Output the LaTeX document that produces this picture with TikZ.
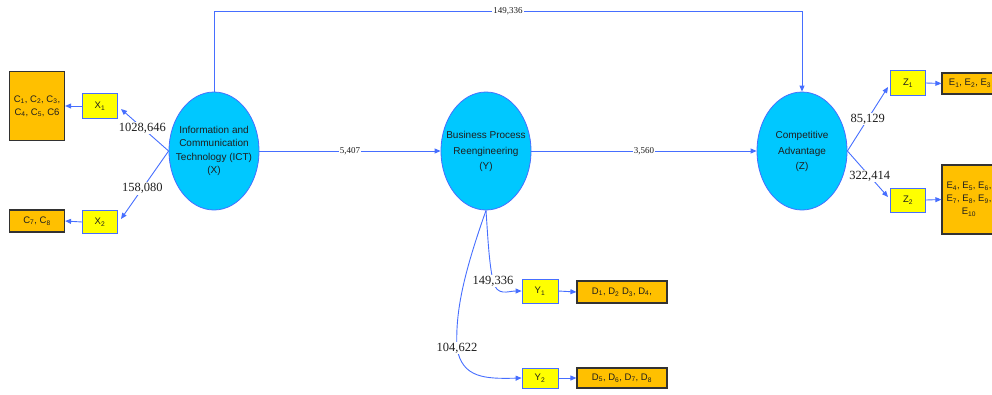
\documentclass[tikz,border=0pt]{standalone}
\usepackage{fontspec}
\setmainfont{Liberation Sans}
\newfontfamily\numfont{Liberation Serif}
\usetikzlibrary{shapes.geometric,arrows.meta}
\definecolor{cyanfill}{RGB}{0,200,255}
\definecolor{lineblue}{RGB}{70,110,255}
\definecolor{boxyellow}{RGB}{255,255,0}
\definecolor{boxorange}{RGB}{255,192,0}
\definecolor{darkborder}{RGB}{50,50,50}
\definecolor{txt}{RGB}{30,30,30}
\newcommand{\ssub}[1]{\textsubscript{#1}}
\newcommand{\elltext}[1]{\makebox[0pt]{\begin{tabular}{@{}c@{}}#1\end{tabular}}}
\begin{document}
\begin{tikzpicture}[x=1pt,y=-1pt,
 construct/.style={ellipse, draw=lineblue, fill=cyanfill, line width=0.8pt, minimum width=90pt, minimum height=118pt, inner sep=0pt, align=center, font=\fontsize{10}{15.5}\selectfont, text=txt},
 indicator/.style={draw=lineblue, fill=boxyellow, line width=0.8pt, minimum width=35pt, minimum height=24pt, inner sep=0pt, font=\fontsize{9.5}{11}\selectfont, text=txt},
 itembox/.style={draw=darkborder, fill=boxorange, line width=1.2pt, inner sep=0pt, align=center, font=\fontsize{9.5}{13}\selectfont, text=txt},
 conn/.style={draw=lineblue, line width=0.9pt},
 arr/.style={conn, -{Triangle[length=6pt,width=5pt]}},
 lblbig/.style={fill=white, inner sep=1pt, font=\numfont\fontsize{12.5}{13}\selectfont, text=txt},
 lblsmall/.style={fill=white, inner sep=1pt, font=\numfont\fontsize{9}{10}\selectfont, text=txt}]
\useasboundingbox (0,0) rectangle (992,394);

% constructs
\node[construct, font=\fontsize{10}{13.5}\selectfont] (ict) at (214,151) {\elltext{Information and\\Communication\\Technology (ICT)\\(X)}};
\node[construct] (bpr) at (486,151) {\raisebox{-2pt}{\elltext{Business Process\\Reengineering\\(Y)}}};
\node[construct] (ca) at (802,151) {\raisebox{-2pt}{\elltext{Competitive\\Advantage\\(Z)}}};

% X indicators
\node[indicator, minimum height=25pt] (x1) at (100,106) {X\ssub{1}};
\node[itembox, minimum width=55pt, minimum height=69pt] (c1) at (37,106) {C\ssub{1}, C\ssub{2}, C\ssub{3},\\C\ssub{4}, C\ssub{5}, C6};
\node[indicator, minimum height=23pt] (x2) at (100,222) {X\ssub{2}};
\node[itembox, minimum width=55pt, minimum height=22pt] (c2) at (37,221) {C\ssub{7}, C\ssub{8}};

% Z indicators
\node[indicator, minimum height=25pt] (z1) at (908,83) {Z\ssub{1}};
\node[itembox, minimum width=56pt, minimum height=21pt] (e1) at (970,83.5) {E\ssub{1}, E\ssub{2}, E\ssub{3}};
\node[indicator, minimum height=24pt] (z2) at (908,200) {Z\ssub{2}};
\node[itembox, minimum width=54pt, minimum height=69pt] (e2) at (969,199.5) {E\ssub{4}, E\ssub{5}, E\ssub{6},\\E\ssub{7}, E\ssub{8}, E\ssub{9},\\E\ssub{10}};

% Y indicators
\node[indicator, minimum width=36pt, minimum height=24pt] (y1) at (540,291) {Y\ssub{1}};
\node[itembox, minimum width=90pt, minimum height=22pt] (d1) at (622,292) {D\ssub{1}, D\ssub{2} D\ssub{3}, D\ssub{4},};
\node[indicator, minimum width=36pt, minimum height=20pt] (y2) at (540,378) {Y\ssub{2}};
\node[itembox, minimum width=90pt, minimum height=20pt] (d2) at (622,378) {D\ssub{5}, D\ssub{6}, D\ssub{7}, D\ssub{8}};

% structural paths
\coordinate (topl) at (214,11);
\coordinate (topr) at (802,11);
\draw[arr] (ict.north) -- (topl) -- node[lblsmall]{149,336} (topr) -- (ca.north);
\draw[arr] (ict.east) -- node[lblsmall]{5,407} (bpr.west);
\draw[arr] (bpr.east) -- node[lblsmall]{3,560} (ca.west);

% loadings X
\coordinate (x1tip) at (121,109);
\coordinate (x2tip) at (121,219);
\draw[arr] (ict.west) -- node[lblbig, pos=0.55]{1028,646} (x1tip);
\draw[arr] (ict.west) -- node[lblbig, pos=0.55]{158,080} (x2tip);
\draw[arr] (x1.west) -- (c1.east);
\draw[arr] (x2.west) -- (c2.east);

% loadings Z
\coordinate (z1tip) at (888,87);
\coordinate (z2tip) at (888,197);
\draw[arr] (ca.east) -- node[lblbig, pos=0.5]{85,129} (z1tip);
\draw[arr] (ca.east) -- node[lblbig, pos=0.55]{322,414} (z2tip);
\draw[arr] (z1.east) -- (e1.west);
\draw[arr] (z2.east) -- (e2.west);

% loadings Y
\coordinate (l1) at (493,281);
\coordinate (l2) at (457,348);
\draw[arr] (bpr.south) .. controls (488,240) and (489,262) .. (l1) .. controls (497,297) and (508,291) .. (y1.west);
\draw[arr] (bpr.south) .. controls (465,270) and (455,310) .. (l2) .. controls (462,378) and (485,379) .. (y2.west);
\node[lblbig] at (l1) {149,336};
\node[lblbig] at (l2) {104,622};
\draw[arr] (y1.east) -- (d1.west);
\draw[arr] (y2.east) -- (d2.west);
\end{tikzpicture}
\end{document}
